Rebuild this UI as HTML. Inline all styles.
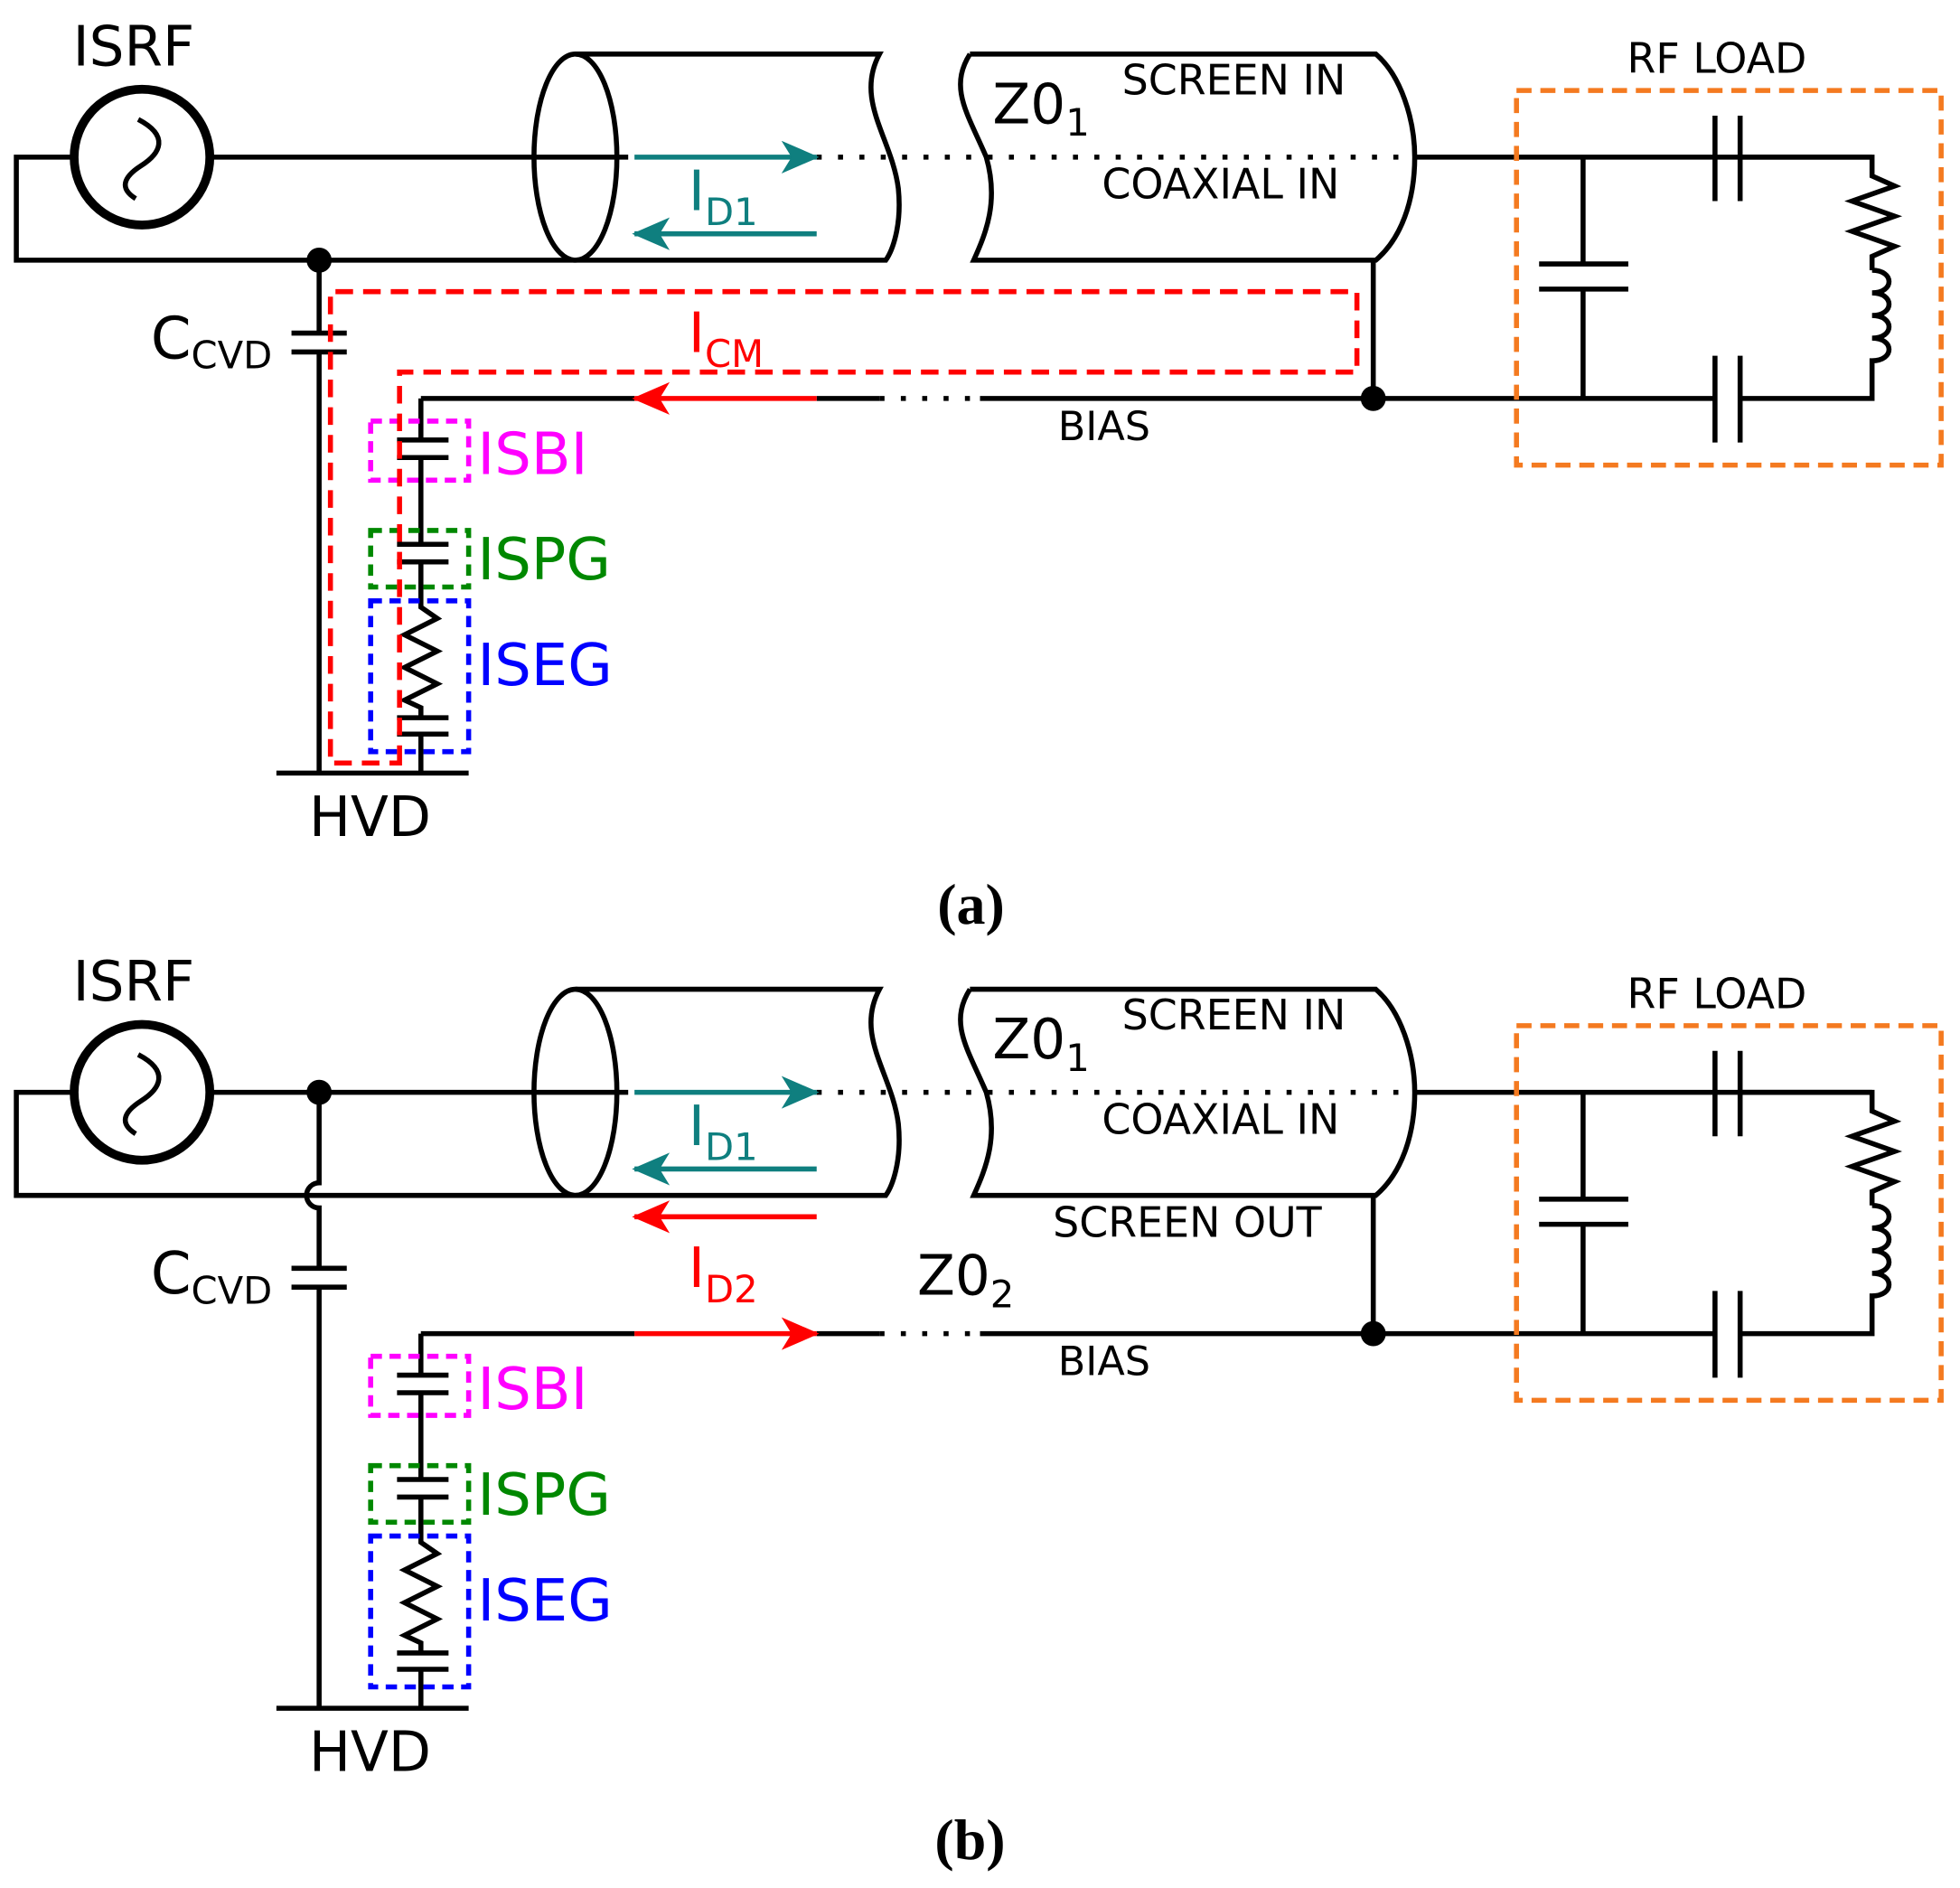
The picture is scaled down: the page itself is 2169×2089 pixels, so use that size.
<!DOCTYPE html>
<html><head><meta charset="utf-8"><style>
html,body{margin:0;padding:0;background:#fff;overflow:hidden;width:2169px;height:2089px;}
svg{display:block;}
</style></head><body>
<svg width="2169" height="2089" viewBox="0 0 1560 1502" preserveAspectRatio="none" xmlns="http://www.w3.org/2000/svg" font-family="DejaVu Sans, Liberation Sans, sans-serif">
<defs>
<marker id="at" markerWidth="30" markerHeight="26" refX="28" refY="13" orient="auto" markerUnits="userSpaceOnUse" viewBox="0 0 30 26"><path d="M0,0 L30,13 L0,26 L8,13z" fill="#0f7f7f"/></marker>
<marker id="ar" markerWidth="30" markerHeight="26" refX="28" refY="13" orient="auto" markerUnits="userSpaceOnUse" viewBox="0 0 30 26"><path d="M0,0 L30,13 L0,26 L8,13z" fill="#f00"/></marker>
<g id="common" fill="none" stroke="#000" stroke-width="4">
 <circle cx="113" cy="125" r="54" stroke-width="7"/>
 <path d="M110,95 C135,108 128,122 112,132 C98,141 95,150 108,158" stroke-width="4"/>
 <path d="M58,125 H13 V207 H458"/>
 <path d="M170,125 H500"/>
 <ellipse cx="458" cy="125" rx="33" ry="82"/>
 <path d="M458,43 H700 C680,80 710,110 715,150 C718,180 710,200 705,207 H458"/>
 <path d="M772,43 H1095 C1115,60 1126,95 1126,125 C1126,160 1115,190 1095,207 H775 C785,185 795,160 785,125 C770,90 755,70 772,43"/>
 <path d="M1126,125 H1490"/>
 <path d="M650,125 H1126" stroke-dasharray="4,13" stroke-width="4"/>
 <path d="M220,615 H373"/>
 <path d="M1260,125 V210 M1225,210 H1296 M1225,230 H1296 M1260,230 V317"/>
 <path d="M1365,92 V160 M1385,92 V160 M1385,125 H1490 V140 L1508,148 L1474,160 L1508,172 L1474,184 L1508,196 L1490,204 V215"/>
 <path d="M1490,215 c18,0 18,18 0,18 c18,0 18,18 0,18 c18,0 18,18 0,18 c18,0 18,18 0,18 V317 H1385"/>
 <path d="M1365,283 V352 M1385,283 V352 M1365,317 H1093"/>
 <rect x="1207" y="72" width="338" height="298" stroke="#f47a20" stroke-width="4" stroke-dasharray="12,7"/>
 <path d="M335,317 V350 M316,350 H357 M316,364 H357 M335,364 V433 M316,433 H357 M316,447 H357 M335,447 V483 L348,492 L322,505 L348,518 L322,531 L348,544 L322,557 L335,563 V571 M316,571 H357 M316,584 H357 M335,584 V615"/>
 <rect x="295" y="335" width="78" height="47" stroke="#f0f" stroke-width="4" stroke-dasharray="9,6"/>
 <rect x="295" y="422" width="78" height="45" stroke="#080" stroke-width="4" stroke-dasharray="9,6"/>
 <rect x="295" y="478" width="78" height="120" stroke="#00f" stroke-width="4" stroke-dasharray="9,6"/>
</g>
<g id="txt">
 <text x="58" y="52" font-size="44">ISRF</text>
 <text x="790" y="98" font-size="44">Z0<tspan font-size="30" dy="10">1</tspan></text>
 <text x="893" y="75" font-size="33">SCREEN IN</text>
 <text x="877" y="158" font-size="33">COAXIAL IN</text>
 <text x="1295" y="58" font-size="33">RF LOAD</text>
 <text x="842" y="350" font-size="32">BIAS</text>
 <text x="548" y="167" font-size="44" fill="#0f7f7f">I<tspan font-size="30" dy="12">D1</tspan></text>
 <text x="120" y="285" font-size="46">C<tspan font-size="30" dy="8">CVD</tspan></text>
 <text x="380" y="377" font-size="46" fill="#f0f">ISBI</text>
 <text x="380" y="461" font-size="46" fill="#080">ISPG</text>
 <text x="380" y="545" font-size="46" fill="#00f">ISEG</text>
 <text x="246" y="665" font-size="44">HVD</text>
 <path d="M505,125 H650" stroke="#0f7f7f" stroke-width="4" marker-end="url(#at)"/>
 <path d="M650,186 H505" stroke="#0f7f7f" stroke-width="4" marker-end="url(#at)"/>
</g>
</defs>

<use href="#common"/>
<use href="#txt"/>
<g fill="none" stroke="#000" stroke-width="4">
 <path d="M254,207 V265 M232,265 H276 M232,280 H276 M254,280 V615"/>
 <path d="M335,317 H505 M650,317 H700 M780,317 H1093 V207"/>
 <path d="M700,317 H780" stroke-dasharray="4,13"/>
 <path d="M318,607 V296 H1080 V232 H263 V607 Z" stroke="#f00" stroke-dasharray="14,8"/>
</g>
<circle cx="254" cy="207" r="10"/>
<circle cx="1093" cy="317" r="10"/>
<path d="M650,317 H505" stroke="#f00" stroke-width="4" marker-end="url(#ar)"/>
<text x="548" y="280" font-size="44" fill="#f00">I<tspan font-size="30" dy="12">CM</tspan></text>
<text x="746" y="735" font-size="46" font-weight="bold" style="font-family:'Liberation Serif',serif">(a)</text>

<g transform="translate(0,744)">
<use href="#common"/>
<use href="#txt"/>
<g fill="none" stroke="#000" stroke-width="4">
 <path d="M254,125 V197 A10,10 0 0 0 254,217 V265 M232,265 H276 M232,280 H276 M254,280 V615"/>
 <path d="M335,317 H505 M650,317 H700 M780,317 H1093 V207"/>
 <path d="M700,317 H780" stroke-dasharray="4,13"/>
</g>
<circle cx="254" cy="125" r="10"/>
<circle cx="1093" cy="317" r="10"/>
<path d="M650,224 H505" stroke="#f00" stroke-width="4" marker-end="url(#ar)"/>
<path d="M505,317 H650" stroke="#f00" stroke-width="4" marker-end="url(#ar)"/>
<text x="548" y="280" font-size="44" fill="#f00">I<tspan font-size="30" dy="12">D2</tspan></text>
<text x="730" y="286" font-size="44">Z0<tspan font-size="30" dy="10">2</tspan></text>
<text x="838" y="240" font-size="33">SCREEN OUT</text>
<text x="744" y="735" font-size="46" font-weight="bold" style="font-family:'Liberation Serif',serif">(b)</text>
</g>
</svg>
</body></html>
